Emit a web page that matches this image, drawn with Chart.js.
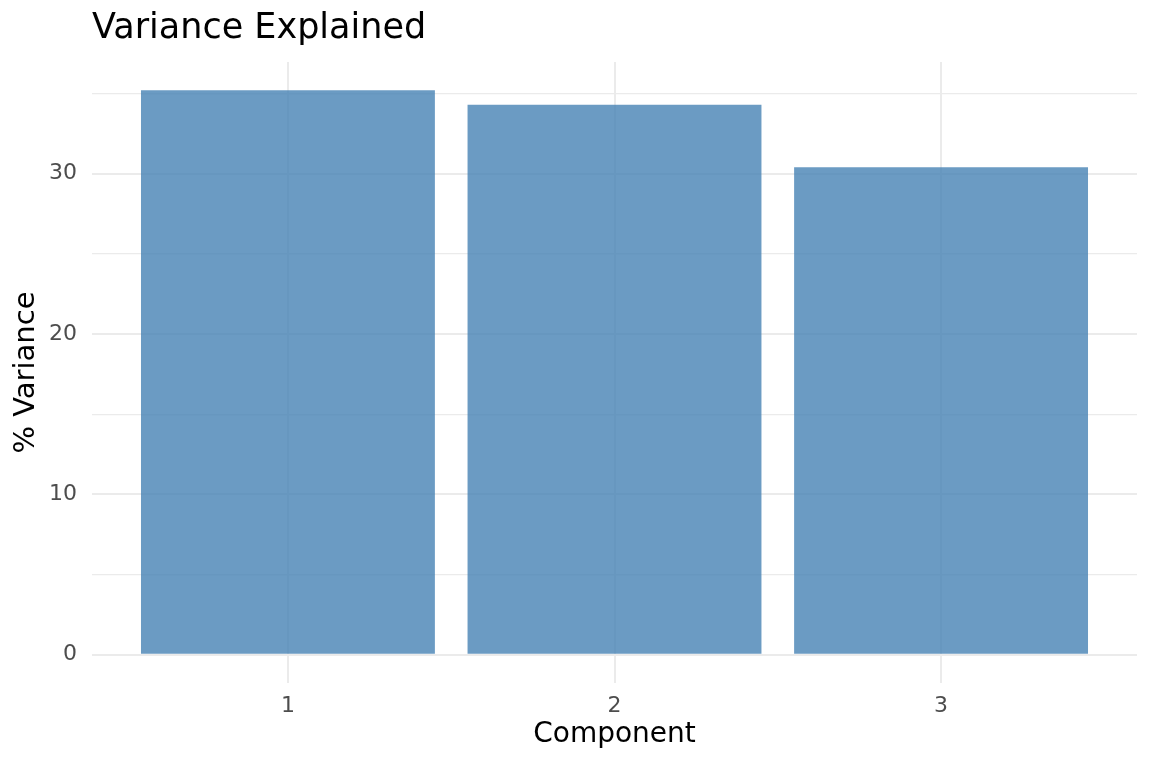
<!DOCTYPE html>
<html>
<head>
<meta charset="utf-8">
<script src="https://cdn.jsdelivr.net/npm/chart.js@4/dist/chart.umd.min.js"></script>
<style>
  html, body { margin: 0; padding: 0; background: #ffffff; }
  #wrap { width: 1152px; height: 768px; }
</style>
</head>
<body>
<div id="wrap"><canvas id="c" width="1152" height="768"></canvas></div>
<script>
// ---- data ----
const components = [1, 2, 3];
const variancePct = [35.2, 34.3, 30.4];
const xTicks = [1, 2, 3];
const yTicks = [0, 5, 10, 15, 20, 25, 30, 35];
const yLabelTicks = [0, 10, 20, 30];

const titleText = 'Variance Explained';
const xTitle = 'Component';
const yTitle = '% Variance';

const FONT = "'DejaVu Sans', 'Liberation Sans', sans-serif";
const yMaxData = Math.max(...variancePct);

const points = components.map((c, i) => ({ x: c, y: variancePct[i] }));

new Chart(document.getElementById('c'), {
  type: 'bar',
  data: {
    datasets: [{
      data: points,
      backgroundColor: 'rgba(70,130,180,0.8)',
      borderWidth: 0,
      categoryPercentage: 1.0,
      barPercentage: 0.9
    }]
  },
  options: {
    responsive: false,
    devicePixelRatio: 1,
    animation: false,
    layout: { padding: { left: 0, right: 15, top: 0, bottom: 0 } },
    plugins: {
      legend: { display: false },
      tooltip: { enabled: false },
      title: {
        display: true,
        text: titleText,
        align: 'start',
        fullSize: false,
        color: '#000000',
        font: { family: FONT, size: 35, weight: 'normal' },
        padding: { top: 7.8, bottom: 12.2 }
      }
    },
    scales: {
      x: {
        type: 'linear',
        min: 0.4,
        max: 3.6,
        offset: false,
        afterBuildTicks: (s) => { s.ticks = xTicks.map(v => ({ value: v })); },
        afterFit: (s) => { s.height = 85; },
        ticks: {
          color: '#4D4D4D',
          font: { family: FONT, size: 22 },
          padding: 10,
          maxRotation: 0,
          callback: (v) => String(v)
        },
        grid: { color: '#EBEBEB', lineWidth: 2, drawTicks: false, offset: false },
        border: { display: false },
        title: {
          display: true,
          text: xTitle,
          color: '#000000',
          font: { family: FONT, size: 28 },
          padding: { top: 0, bottom: 16 }
        }
      },
      y: {
        type: 'linear',
        min: -yMaxData * 0.05,
        max: yMaxData * 1.05,
        afterBuildTicks: (s) => { s.ticks = yTicks.map(v => ({ value: v })); },
        afterFit: (s) => { s.width = 92; },
        ticks: {
          color: '#4D4D4D',
          font: { family: FONT, size: 22 },
          padding: 15,
          callback: (v) => yLabelTicks.includes(v) ? String(v) : ''
        },
        grid: {
          color: '#EBEBEB',
          lineWidth: (ctx) => (ctx.tick && yLabelTicks.includes(ctx.tick.value)) ? 2 : 1.2,
          drawTicks: false
        },
        border: { display: false },
        title: {
          display: true,
          text: yTitle,
          color: '#000000',
          font: { family: FONT, size: 29 },
          padding: { top: 9.5, bottom: 0 }
        }
      }
    }
  }
});
</script>
</body>
</html>
